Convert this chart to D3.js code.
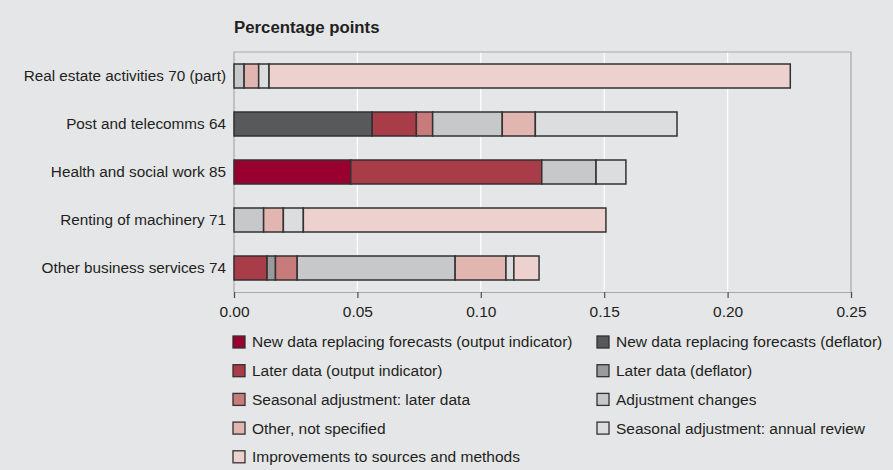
<!DOCTYPE html>
<html>
<head>
<meta charset="utf-8">
<script src="https://cdn.jsdelivr.net/npm/d3@7/dist/d3.min.js"></script>
<style>
  html, body { margin: 0; padding: 0; background: #e5e6e8; }
  svg { display: block; }
  text { font-family: "Liberation Sans", Arial, sans-serif; fill: #231f20; }
</style>
</head>
<body>
<svg id="chart" width="893" height="470"></svg>
<script>
// Industries, top to bottom
const categories = [
  "Real estate activities 70 (part)",
  "Post and telecomms 64",
  "Health and social work 85",
  "Renting of machinery 71",
  "Other business services 74"
];

// Contribution of each component (percentage points), in category order
const newDataOutput      = [0,      0,      0.0473, 0,      0];
const newDataDeflator    = [0,      0.0560, 0,      0,      0];
const laterDataOutput    = [0,      0.0179, 0.0774, 0,      0.0134];
const laterDataDeflator  = [0,      0,      0,      0,      0.0034];
const seasonalLaterData  = [0,      0.0066, 0,      0,      0.0088];
const adjustmentChanges  = [0.0041, 0.0282, 0.0220, 0.0120, 0.0640];
const otherNotSpecified  = [0.0059, 0.0134, 0,      0.0080, 0.0206];
const seasonalAnnual     = [0.0042, 0.0574, 0.0121, 0.0081, 0.0032];
const improvements       = [0.2112, 0,      0,      0.1226, 0.0102];

const seriesNames = [
  "New data replacing forecasts (output indicator)",
  "New data replacing forecasts (deflator)",
  "Later data (output indicator)",
  "Later data (deflator)",
  "Seasonal adjustment: later data",
  "Adjustment changes",
  "Other, not specified",
  "Seasonal adjustment: annual review",
  "Improvements to sources and methods"
];
const seriesValues = [
  newDataOutput, newDataDeflator, laterDataOutput, laterDataDeflator,
  seasonalLaterData, adjustmentChanges, otherNotSpecified, seasonalAnnual, improvements
];
const seriesColors = [
  "#990030", "#58595b", "#a93c49", "#9a9b9d",
  "#c87b7b", "#c7c8ca", "#e1b5b0", "#dcdddf", "#ecd1ce"
];

const xTicks = [0, 0.05, 0.10, 0.15, 0.20, 0.25];
const axisTitle = "Percentage points";

// Build rows for d3.stack
const rows = categories.map((c, i) => {
  const r = { category: c };
  seriesNames.forEach((s, j) => { r[s] = seriesValues[j][i]; });
  return r;
});
const stacked = d3.stack().keys(seriesNames)(rows);

const svg = d3.select("#chart");
const plot = { left: 234, right: 851, top: 52, bottom: 292 };

const x = d3.scaleLinear().domain([0, 0.25]).range([plot.left, plot.right]);
const y = d3.scaleBand().domain(categories).range([plot.top, plot.bottom])
  .paddingInner(0.5).paddingOuter(0.25);
const color = d3.scaleOrdinal().domain(seriesNames).range(seriesColors);

// White gridlines
svg.append("g").selectAll("line")
  .data(xTicks.filter(t => t > 0 && t < 0.25))
  .join("line")
  .attr("x1", d => x(d)).attr("x2", d => x(d))
  .attr("y1", plot.top).attr("y2", plot.bottom)
  .attr("stroke", "#ffffff").attr("stroke-width", 1.2);

// Frame: top, left, right
svg.append("path")
  .attr("d", `M${plot.left},${plot.bottom}V${plot.top}H${plot.right}V${plot.bottom}`)
  .attr("fill", "none").attr("stroke", "#a7a8aa").attr("stroke-width", 1.2);

// Stacked bars
svg.append("g").selectAll("g")
  .data(stacked)
  .join("g")
  .attr("fill", d => color(d.key))
  .selectAll("rect")
  .data(d => d.filter(p => p[1] - p[0] > 0))
  .join("rect")
  .attr("x", d => x(d[0]))
  .attr("y", d => y(d.data.category))
  .attr("width", d => x(d[1]) - x(d[0]))
  .attr("height", y.bandwidth())
  .attr("stroke", "#333132").attr("stroke-width", 1.5);

// X axis
const xAxis = svg.append("g")
  .attr("transform", `translate(0,${plot.bottom})`)
  .call(d3.axisBottom(x).tickValues(xTicks).tickFormat(d3.format(".2f")).tickSize(6).tickPadding(8));
xAxis.select(".domain").attr("stroke", "#a7a8aa").attr("stroke-width", 1.2);
xAxis.selectAll(".tick line").attr("stroke", "#4d4d4f").attr("stroke-width", 1.2);
xAxis.selectAll("text").attr("font-size", 15.5).attr("fill", "#231f20")
  .style("font-family", "'Liberation Sans', Arial, sans-serif");

// Category labels
svg.append("g").selectAll("text")
  .data(categories)
  .join("text")
  .attr("x", plot.left - 8)
  .attr("y", d => y(d) + y.bandwidth() / 2)
  .attr("dy", "0.35em")
  .attr("text-anchor", "end")
  .attr("font-size", 15.3)
  .text(d => d);

// Units title
svg.append("text")
  .attr("x", plot.left).attr("y", 33)
  .attr("font-size", 16.8).attr("font-weight", "bold")
  .text(axisTitle);

// Legend, two columns, row-major
const legend = svg.append("g");
const colX = [233, 597];
const rowY0 = 342, rowStep = 28.7;
const items = legend.selectAll("g")
  .data(seriesNames)
  .join("g")
  .attr("transform", (d, i) => `translate(${colX[i % 2]},${rowY0 + Math.floor(i / 2) * rowStep})`);
items.append("rect")
  .attr("x", 0).attr("y", -6).attr("width", 12).attr("height", 12)
  .attr("fill", d => color(d)).attr("stroke", "#333132").attr("stroke-width", 1.3);
items.append("text")
  .attr("x", 19).attr("y", 0).attr("dy", "0.35em")
  .attr("font-size", 15.5)
  .text(d => d);
</script>
</body>
</html>
